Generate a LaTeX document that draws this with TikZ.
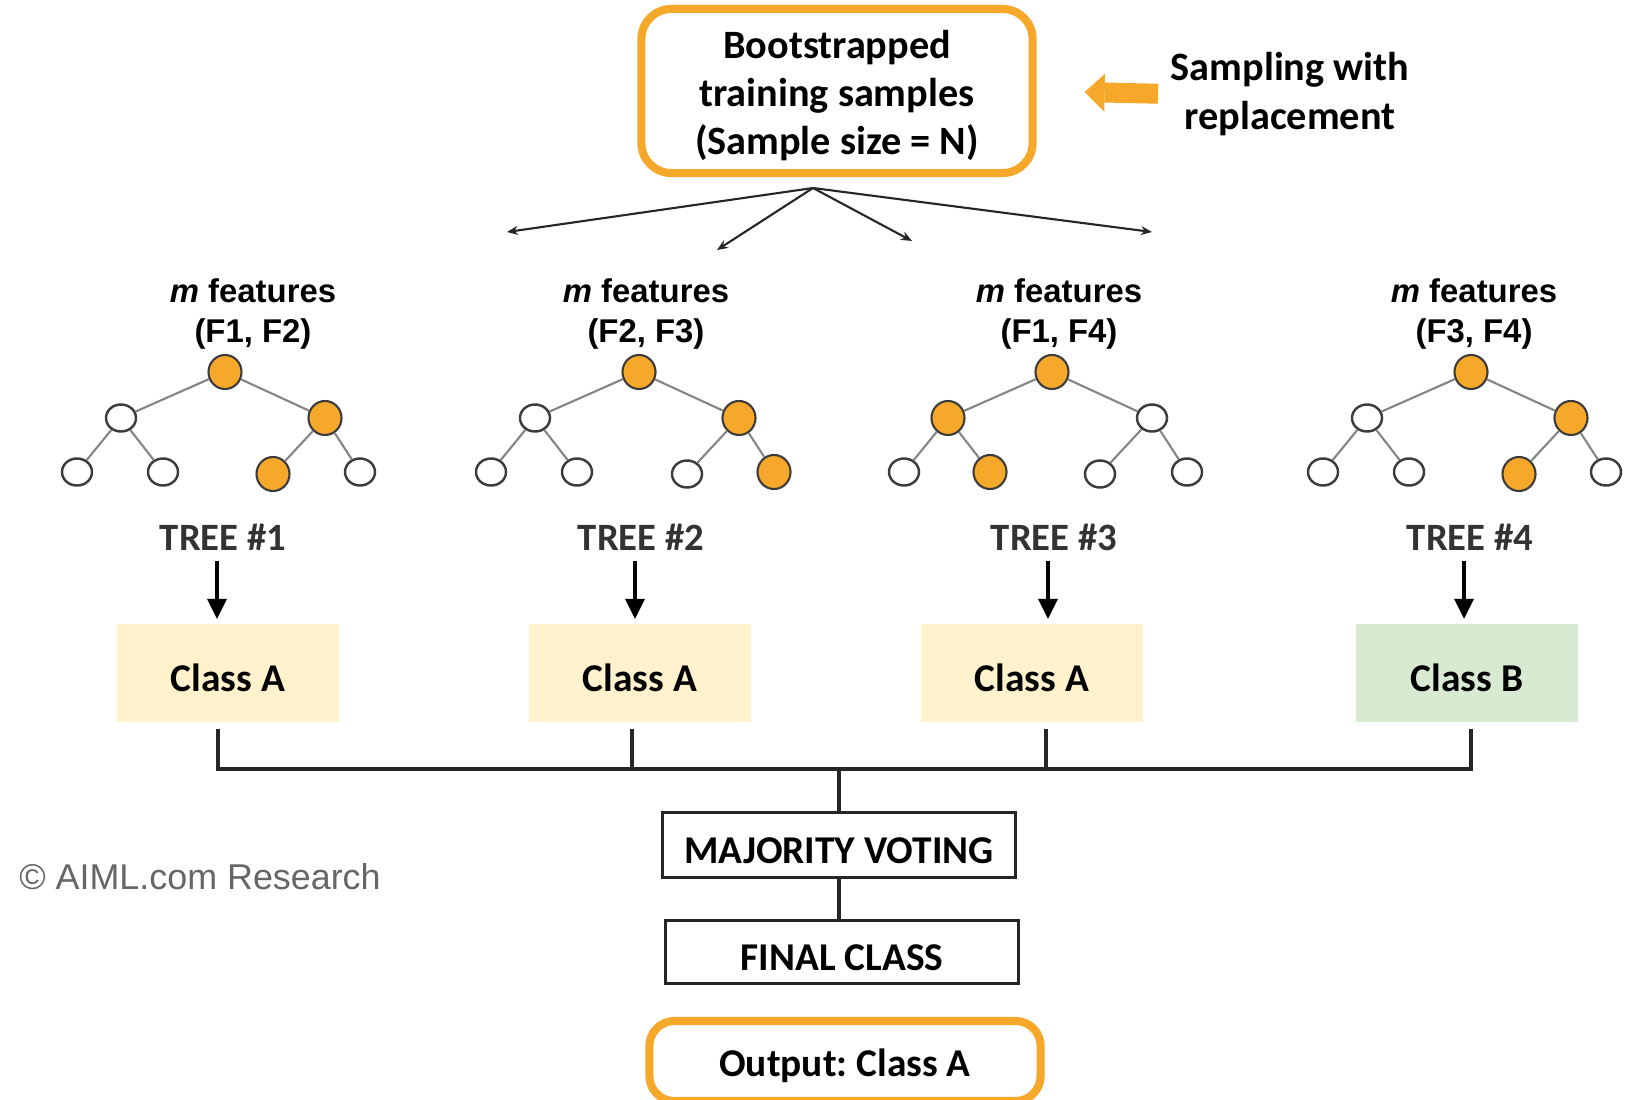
\documentclass[tikz,border=0pt]{standalone}
\usepackage{fontspec}
\setmainfont{Carlito}
\newfontfamily\arialf{Liberation Sans}
\usetikzlibrary{arrows.meta,shapes.geometric}

\definecolor{aimlorange}{HTML}{F6A82B}
\definecolor{classa}{HTML}{FFF2CC}
\definecolor{classb}{HTML}{D9EAD3}
\definecolor{nodeline}{HTML}{3C3C3C}
\definecolor{branchgray}{HTML}{858585}

\tikzset{
	bigtext/.style={font=\fontsize{11.45pt}{13.7pt}\selectfont\bfseries, align=center},
	orangebox/.style={draw=aimlorange, line width=2.3pt, rounded corners=0.3cm, inner sep=0pt},
	fatarrow/.style={draw=aimlorange, line width=0.2cm,
		-{Triangle[width=0.38cm, length=0.2cm, line width=0pt]}},
	fan/.style={draw=black!85, line width=0.6pt, -{Stealth[length=0.11cm, width=0.09cm]}},
	onode/.style={ellipse, draw=nodeline, line width=0.6pt, fill=aimlorange,
		minimum width=0.33cm, minimum height=0.34cm, inner sep=0pt},
	wnode/.style={ellipse, draw=nodeline, line width=0.7pt, fill=white,
		minimum width=0.30cm, minimum height=0.27cm, inner sep=0pt},
	branch/.style={draw=branchgray, line width=0.6pt},
	featlab/.style={font=\arialf\fontsize{9.35pt}{11.2pt}\selectfont\bfseries, align=center, inner sep=0pt},
	treelab/.style={font=\fontsize{11pt}{13pt}\selectfont\bfseries, text=black!80, inner sep=0pt},
	down/.style={draw=black, line width=1.2pt, -{Triangle[width=0.2cm, length=0.2cm, line width=0pt]}},
	classbox/.style={minimum width=2.22cm, minimum height=0.97cm, inner sep=0pt,
		font=\fontsize{11.2pt}{13pt}\selectfont\bfseries, text height=10.5pt, text depth=0pt},
	votebox/.style={draw=black!85, line width=0.85pt, minimum width=3.52cm, inner sep=0pt,
		font=\fontsize{11.2pt}{13pt}\selectfont\bfseries, text height=10.5pt, text depth=0pt},
	bus/.style={draw=black!85, line width=1pt},
}

\begin{document}
\begin{tikzpicture}[x=0.01cm, y=-0.01cm]
	\useasboundingbox (0,0) rectangle (1642,1100);

	% top: samples
	\node [orangebox, bigtext, minimum width=3.91cm, minimum height=1.64cm] at (837,91) (boot)
		{\rule{0pt}{10.6pt}Bootstrapped\\training samples\\(Sample size = N)};
	\node [bigtext, inner sep=0pt] at (1290,94) (samp) {Sampling with\\replacement};
	\draw [fatarrow, shorten <=0.12cm, shorten >=0.48cm] (samp.west) -- (boot.east);

	\coordinate (fan) at (813,188);
	\coordinate (f1) at (507,232);
	\coordinate (f2) at (717,250);
	\coordinate (f3) at (912,241);
	\coordinate (f4) at (1152,232);
	\foreach \k in {1,...,4}
		\draw [fan] (fan) -- (f\k);

	% features
	\node [featlab] at (253,314) (feat1) {\textit{m} features\\(F1, F2)};
	\node [featlab] at (646,314) (feat2) {\textit{m} features\\(F2, F3)};
	\node [featlab] at (1059,314) (feat3) {\textit{m} features\\(F1, F4)};
	\node [featlab] at (1474,314) (feat4) {\textit{m} features\\(F3, F4)};

	% trees
	\foreach \k/\rx/\sa/\sb/\saa/\sab/\sba/\sbb in {
			1/225/wnode/onode/wnode/wnode/onode/wnode,
			2/639/wnode/onode/wnode/wnode/wnode/onode,
			3/1052/onode/wnode/wnode/onode/wnode/wnode,
			4/1471/wnode/onode/wnode/wnode/onode/wnode} {
		\node [onode] at (\rx,372) (r\k) {};
		\node [\sa] at (\rx-104,418) (a\k) {};
		\node [\sb] at (\rx+100,418) (b\k) {};
		\node [\saa] at (\rx-148,472) (aa\k) {};
		\node [\sab] at (\rx-62,472) (ab\k) {};
		\node [\sba] at (\rx+48,474) (ba\k) {};
		\node [\sbb] at (\rx+135,472) (bb\k) {};
		\draw [branch] (r\k) -- (a\k) (r\k) -- (b\k)
			(a\k) -- (aa\k) (a\k) -- (ab\k)
			(b\k) -- (ba\k) (b\k) -- (bb\k);
	}

	\node [treelab] at (223,537) (tl1) {TREE \#1};
	\node [treelab] at (641,537) (tl2) {TREE \#2};
	\node [treelab] at (1054,537) (tl3) {TREE \#3};
	\node [treelab] at (1470,537) (tl4) {TREE \#4};

	% votes
	\node [classbox, fill=classa] at (228,673) (c1) {Class A};
	\node [classbox, fill=classa] at (640,673) (c2) {Class A};
	\node [classbox, fill=classa] at (1032,673) (c3) {Class A};
	\node [classbox, fill=classb] at (1467,673) (c4) {Class B};

	\foreach \k in {1,...,4}
		\draw [down, shorten <=0.1cm, shorten >=0.05cm]
			([xshift=-0.06cm]tl\k.south) -- ([xshift=-0.06cm]tl\k.south |- c\k.north);

	\node [votebox, minimum height=0.65cm] at (839,845) (vote) {MAJORITY VOTING};
	\node [votebox, minimum height=0.63cm] at (842,952) (final) {FINAL CLASS};

	\draw [bus, shorten <=0.07cm] ([xshift=-0.1cm]c1.south) -- ++(0,47) -| (vote.north);
	\draw [bus, shorten <=0.07cm] ([xshift=0.04cm]c4.south) -- ++(0,47) -| (vote.north);
	\draw [bus, shorten <=0.07cm] ([xshift=-0.08cm]c2.south) -- ++(0,47);
	\draw [bus, shorten <=0.07cm] ([xshift=0.14cm]c3.south) -- ++(0,47);
	\draw [bus] (vote.south) -- (vote.south |- final.north);

	\node [orangebox, rounded corners=0.25cm, minimum width=3.91cm, minimum height=0.8cm,
		font=\fontsize{11.2pt}{13pt}\selectfont\bfseries, text height=9pt, text depth=0pt]
		at (845,1061) (out) {Output:\ Class A};

	\node [font=\arialf\fontsize{10.2pt}{12pt}\selectfont, text=black!60, inner sep=0pt]
		at (200,877) (credit) {© AIML.com Research};
\end{tikzpicture}
\end{document}
